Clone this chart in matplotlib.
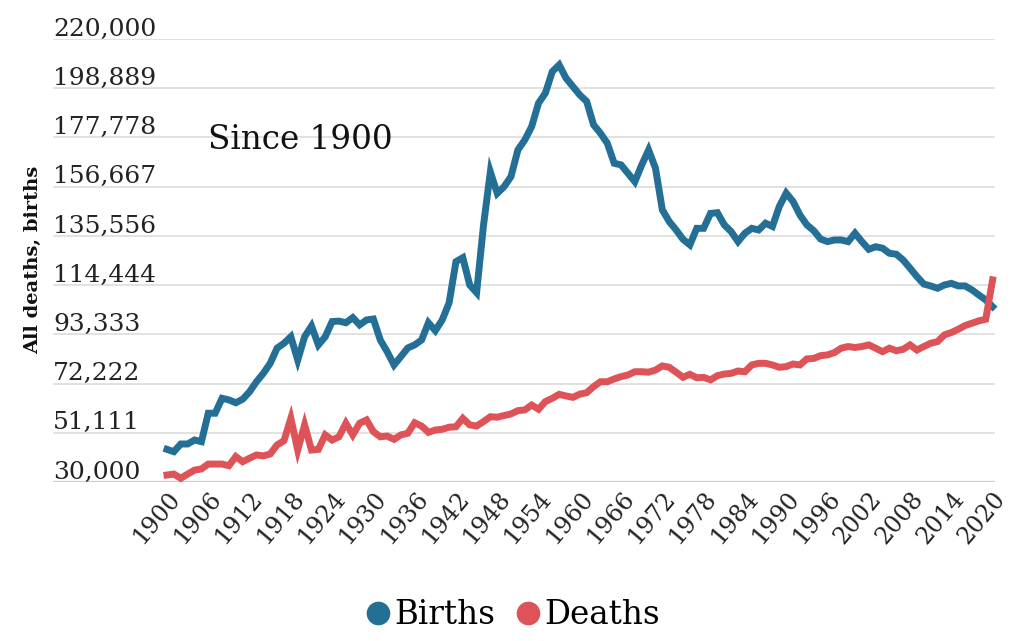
import numpy as np
import matplotlib.pyplot as plt
from matplotlib.lines import Line2D

# Données
years = list(range(1900, 2021))

births = [
    44000, 43000, 46300, 46300, 48000, 47300, 59500, 59500, 65900, 65200,
    64000, 65500, 68700, 73000, 76600, 80900, 87400, 89500, 92300, 82300,
    92300, 96900, 88800, 92300, 98800, 99000, 98300, 100500, 97400, 99500,
    99900, 90900, 85900, 80200, 83800, 87500, 88800, 90900, 98300, 94900,
    99500, 106800, 124500, 126200, 114500, 111200, 140000, 163000, 153800, 156700,
    161000, 172400, 176700, 182400, 192500, 196800, 206000, 208900, 203200, 199600,
    196000, 193200, 183200, 179600, 175300, 166700, 166000, 162400, 158800, 166000,
    172400, 164600, 146700, 141700, 138100, 134100, 131700, 138800, 138800, 145200,
    145500, 140300, 137400, 133100, 136700, 138800, 138100, 141000, 139600, 148200,
    153900, 150300, 144500, 140300, 137800, 134200, 133100, 133800, 133800, 133100,
    136700, 133100, 129800, 130900, 130300, 128100, 127700, 125200, 121700, 118100,
    114900, 114100, 113100, 114500, 115200, 114100, 114100, 112400, 110200, 108100,
    105200,
]

deaths = [
    33000, 33400, 31600, 33400, 35100, 35600, 37700, 37700, 37700, 37000,
    40900, 38700, 40200, 41600, 41200, 42000, 45900, 47700, 57300, 43700,
    54500, 43700, 44000, 50200, 48000, 49400, 55200, 50200, 55200, 56600,
    51600, 49400, 49700, 48300, 50200, 50900, 55400, 54000, 51300, 52300,
    52600, 53500, 53700, 57300, 54500, 54000, 55900, 58000, 57800, 58500,
    59200, 60600, 60900, 63000, 61200, 64500, 65900, 67600, 66900, 66300,
    67700, 68300, 70900, 73000, 73000, 74200, 75200, 75900, 77300, 77300,
    77100, 78000, 79800, 79200, 77100, 74900, 76200, 74700, 74900, 73800,
    75600, 76300, 76600, 77600, 77300, 80200, 80900, 80900, 80200, 79200,
    79500, 80600, 80200, 82800, 83000, 84200, 84500, 85500, 87400, 88100,
    87700, 88100, 88800, 87400, 85900, 87400, 86300, 86900, 88800, 86600,
    88100, 89500, 90200, 93100, 94100, 95500, 97100, 98100, 99100, 99800,
    116700,
]

y_ticks = [30000, 51111, 72222, 93333, 114444, 135556, 156667, 177778, 198889, 220000]
x_ticks = list(range(1900, 2021, 6))

blue = '#236f96'
red = '#dd5358'

plt.rcParams['font.family'] = ['DejaVu Serif']

fig = plt.figure(figsize=(10.11, 6.41), dpi=100)
W, H = 1011, 641
ax = fig.add_axes([53 / W, (H - 482) / H, (995 - 53) / W, (482 - 39) / H])

ax.plot(years, births, color=blue, lw=5, solid_joinstyle='miter', clip_on=False, zorder=3)
ax.plot(years, deaths, color=red, lw=5, solid_joinstyle='miter', clip_on=False, zorder=3)

ax.set_xlim(1883.43, 2020.35)
ax.set_ylim(30000, 220000)

# Lignes de grille et étiquettes au-dessus des lignes
for i, v in enumerate(y_ticks):
    ax.axhline(v, color='#cccccc' if i == 0 else '#dddddd', lw=1.6 if i == 0 else 1.2, zorder=1)
    ax.text(0, v - 700, f'{v:,}', transform=ax.get_yaxis_transform(), ha='left', va='bottom',
            fontsize=18, color='#222222')
ax.set_yticks([])

ax.set_xticks(x_ticks)
ax.set_xticklabels([str(t) for t in x_ticks], rotation=50, ha='right',
                   rotation_mode='anchor', fontsize=17, color='#222222')
ax.tick_params(axis='x', length=0, pad=4)

for s in ax.spines.values():
    s.set_visible(False)

fig.text(33 / W, 1 - 260 / H, 'All deaths, births', rotation=90, ha='center', va='center',
         fontsize=14, fontweight='bold', color='#111111')

ax.text(208 / W, 1 - 140 / H, 'Since 1900', transform=fig.transFigure, ha='left', va='center',
        fontsize=23.5, color='#111111')

handles = [
    Line2D([], [], ls='', marker='o', ms=16, color=blue, label='Births'),
    Line2D([], [], ls='', marker='o', ms=16, color=red, label='Deaths'),
]
fig.legend(handles=handles, loc='center', bbox_to_anchor=(511 / W, 1 - 615 / H), ncol=2,
           frameon=False, fontsize=23.5, handletextpad=0.0, columnspacing=0.5, handlelength=1.0)

fig.savefig('out.png', dpi=100)
